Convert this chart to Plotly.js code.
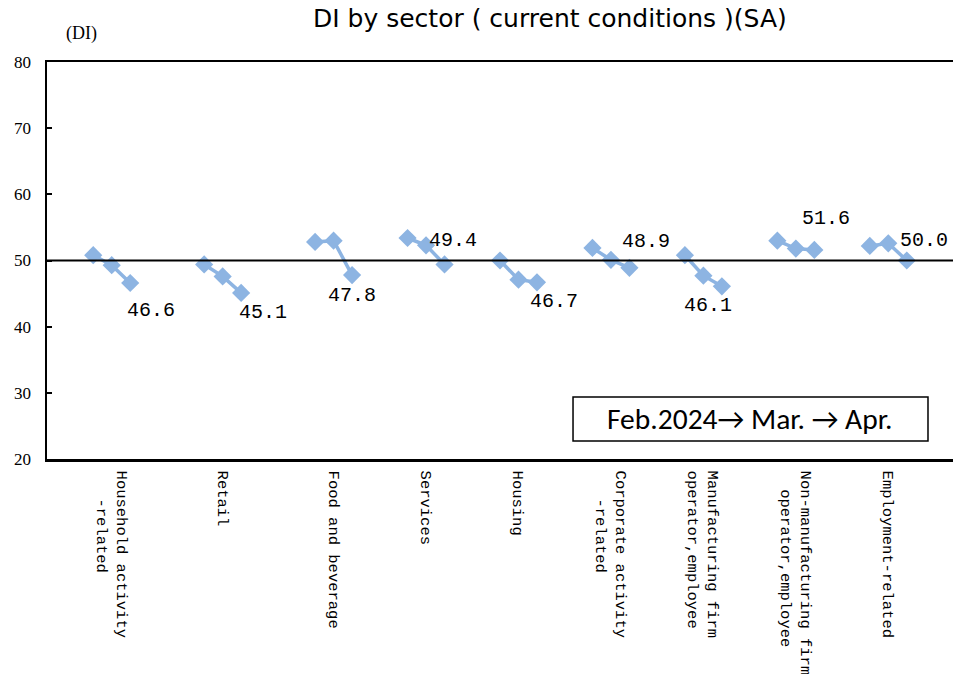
<!DOCTYPE html>
<html>
<head>
<meta charset="utf-8">
<script src="https://cdn.plot.ly/plotly-3.0.1.min.js"></script>
<style>html,body{margin:0;padding:0;background:#fff;}#chart{width:953px;height:674px;}</style>
</head>
<body>
<div id="chart"></div>
<script>
// Sector categories (tick labels)
const sectors = [
  "Household activity<br>   -related",
  "Retail",
  "Food and beverage",
  "Services",
  "Housing",
  "Corporate activity<br>   -related",
  "Manufacturing firm<br>operator,employee",
  "Non-manufacturing firm<br>  operator,employee",
  "Employment-related"
];
const months = ["Feb.2024", "Mar.", "Apr."];
// DI values (Feb, Mar, Apr) per sector
const feb = [50.8, 49.4, 52.8, 53.4, 50.0, 51.9, 50.8, 53.0, 52.2];
const mar = [49.3, 47.6, 53.0, 52.3, 47.1, 50.1, 47.7, 51.8, 52.6];
const apr = [46.6, 45.1, 47.8, 49.4, 46.7, 48.9, 46.1, 51.6, 50.0];
const legendText = "Feb.2024\u2192 Mar. \u2192 Apr.";

// layout: number of blank category slots before each sector group (spreadsheet rows)
const blankBefore = [2, 3, 3, 2, 2, 2, 2, 2, 2];
const totalSlots = 49;
const starts = [];
let cursor = 0;
blankBefore.forEach((b) => { cursor += b; starts.push(cursor); cursor += months.length; });

const lineColor = "#8DB4E2";
const traces = sectors.map((s, i) => ({
  type: "scatter",
  mode: "lines+markers",
  x: months.map((m, k) => starts[i] + k),
  y: [feb[i], mar[i], apr[i]],
  text: months,
  line: {color: lineColor, width: 3.5},
  marker: {symbol: "diamond", size: 14, color: lineColor},
  showlegend: false,
  hoverinfo: "text+y"
}));

// label placement offsets (px) relative to the April point
const lblShift = [[21, -27], [22, -20], [0, -20], [8, 24], [17, -19], [17, 26], [-14, -19], [12, 31], [17, 20]];
const annotations = apr.map((v, i) => ({
  x: starts[i] + 2, y: v, xref: "x", yref: "y",
  text: v.toFixed(1), showarrow: false,
  xshift: lblShift[i][0], yshift: lblShift[i][1],
  font: {family: "Liberation Mono, monospace", size: 20, color: "#000"}
}));
annotations.push({
  xref: "paper", yref: "paper", x: 0.7759, y: 0.1008,
  text: legendText, showarrow: false, xanchor: "center", yanchor: "middle",
  font: {family: "Carlito, Liberation Sans, sans-serif", size: 29.5, color: "#000"}
});
annotations.push({
  xref: "paper", yref: "paper", x: 0.019, y: 1.04, xanchor: "left", yanchor: "bottom",
  text: "(DI)", showarrow: false,
  font: {family: "Liberation Serif, serif", size: 18, color: "#000"}
});

const layout = {
  width: 953, height: 674,
  margin: {l: 47, r: 0, t: 62, b: 215},
  paper_bgcolor: "#fff", plot_bgcolor: "#fff",
  title: {text: "DI by sector ( current conditions )(SA)", x: 0.577, xanchor: "center", y: 0.973, yanchor: "middle",
    font: {family: "DejaVu Sans, sans-serif", size: 25, color: "#000"}},
  xaxis: {
    range: [-0.5, totalSlots - 0.5], tickmode: "array",
    tickvals: starts.map((s) => s + 1), ticktext: sectors,
    tickangle: 90, showgrid: false, zeroline: false,
    showline: true, linecolor: "#000", linewidth: 2.5, mirror: true, ticks: "",
    ticklabelstandoff: 6,
    tickfont: {family: "Liberation Mono, monospace", size: 15.5, color: "#000"}
  },
  yaxis: {
    range: [20, 80], tickvals: [20, 30, 40, 50, 60, 70, 80], showgrid: false, zeroline: false,
    showline: true, linecolor: "#000", linewidth: 2.5, ticks: "inside", ticklen: 5, tickwidth: 2, tickcolor: "#000",
    tickfont: {family: "Liberation Serif, serif", size: 17, color: "#000"}, ticklabelstandoff: 10
  },
  shapes: [
    {type: "line", xref: "paper", yref: "y", x0: 0, x1: 1, y0: 50, y1: 50, line: {color: "#000", width: 2}},
    {type: "rect", xref: "paper", yref: "paper", x0: 0.5806, x1: 0.9724, y0: 0.0453, y1: 0.156, line: {color: "#000", width: 1.5}, fillcolor: "#fff", layer: "below"}
  ],
  annotations: annotations
};

Plotly.newPlot("chart", traces, layout, {displayModeBar: false, staticPlot: true});
</script>
</body>
</html>
